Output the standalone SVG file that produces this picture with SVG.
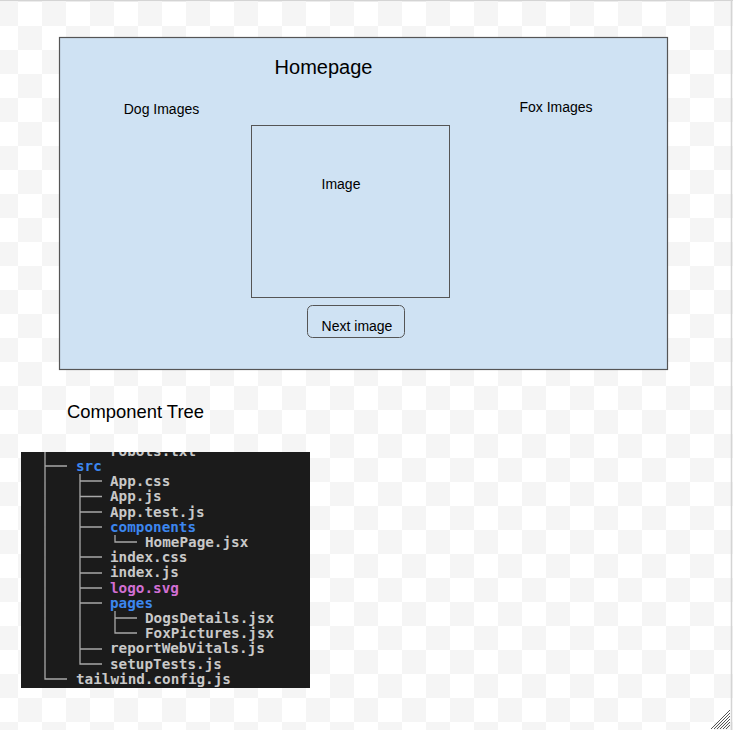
<svg xmlns="http://www.w3.org/2000/svg" width="733" height="730" viewBox="0 0 733 730">
  <defs>
    <pattern id="checker" patternUnits="userSpaceOnUse" x="-6" y="2" width="48" height="48">
      <rect x="0" y="0" width="48" height="48" fill="#ffffff"/>
      <rect x="0" y="0" width="24" height="24" fill="#f5f5f5"/>
      <rect x="24" y="24" width="24" height="24" fill="#f5f5f5"/>
    </pattern>
    <clipPath id="treeClip">
      <rect x="21" y="452" width="289" height="236"/>
    </clipPath>
    <style>
      .sans { font-family: "Liberation Sans", Arial, sans-serif; fill: #000000; }
      .box { fill: #cfe2f3; stroke: #555555; stroke-width: 1; }
      .mono { font-family: "DejaVu Sans Mono", "Liberation Mono", monospace; font-size: 14.3px; font-weight: bold; fill: #c8c8c8; }
      .dir { fill: #3c86ef; }
      .svg { fill: #d16fd3; }
      .tree { stroke: #a8a8a8; stroke-width: 1.3; fill: none; }
    </style>
  </defs>

  <rect x="0" y="0" width="733" height="730" fill="url(#checker)"/>
  <line x1="0" y1="0.5" x2="733" y2="0.5" stroke="#d4d4d4" stroke-width="1.5"/>
  <line x1="731.5" y1="0" x2="731.5" y2="730" stroke="#d4d4d4" stroke-width="1.5"/>

  <g id="homepage">
    <rect class="box" x="59.5" y="37.5" width="608" height="332" style="stroke-width:1.2"/>
    <text class="sans" x="323.5" y="74" font-size="20" text-anchor="middle">Homepage</text>
  </g>

  <g id="dog-images">
    <text class="sans" x="161.5" y="114" font-size="14" text-anchor="middle">Dog Images</text>
  </g>

  <g id="fox-images">
    <text class="sans" x="556" y="112" font-size="14" text-anchor="middle">Fox Images</text>
  </g>

  <g id="image">
    <rect class="box" x="251.5" y="125.5" width="198" height="172"/>
    <text class="sans" x="341" y="189" font-size="14" text-anchor="middle">Image</text>
  </g>

  <g id="next-image">
    <rect class="box" x="307.5" y="305.5" width="97" height="32" rx="5" ry="5"/>
    <text class="sans" x="357" y="331" font-size="14" text-anchor="middle">Next image</text>
  </g>

  <g id="component-tree-title">
    <text class="sans" x="67" y="418" font-size="18.4">Component Tree</text>
  </g>

  <g id="component-tree">
    <rect x="21" y="452" width="289" height="236" fill="#1b1b1b"/>
    <g clip-path="url(#treeClip)">
      <text class="mono" x="110" y="456">robots.txt</text>
      <text class="mono dir" x="76" y="471">src</text>
      <text class="mono" x="110" y="486.2">App.css</text>
      <text class="mono" x="110" y="501.4">App.js</text>
      <text class="mono" x="110" y="516.6">App.test.js</text>
      <text class="mono dir" x="110" y="531.8">components</text>
      <text class="mono" x="145" y="547">HomePage.jsx</text>
      <text class="mono" x="110" y="562.2">index.css</text>
      <text class="mono" x="110" y="577.4">index.js</text>
      <text class="mono svg" x="110" y="592.6">logo.svg</text>
      <text class="mono dir" x="110" y="607.8">pages</text>
      <text class="mono" x="145" y="623">DogsDetails.jsx</text>
      <text class="mono" x="145" y="638.2">FoxPictures.jsx</text>
      <text class="mono" x="110" y="653.4">reportWebVitals.js</text>
      <text class="mono" x="110" y="668.6">setupTests.js</text>
      <text class="mono" x="76" y="683.8">tailwind.config.js</text>
      <path class="tree" d="M45,452 V679 H67 M45,466 H67 M80,474 V664 H102 M80,481 H102 M80,496.5 H102 M80,512 H102 M80,527 H102 M80,557 H102 M80,573 H102 M80,588 H102 M80,603 H102 M80,649 H102 M115,535 V542 H137 M115,611 V633 H137 M115,618 H137"/>
    </g>
  </g>

  <g id="resize-handle" stroke="#555555" stroke-width="1">
    <line x1="711" y1="729" x2="730" y2="710"/>
    <line x1="714" y1="729" x2="730" y2="713"/>
    <line x1="717" y1="729" x2="730" y2="716"/>
    <line x1="720" y1="729" x2="730" y2="719"/>
    <line x1="723" y1="729" x2="730" y2="722"/>
    <line x1="726" y1="729" x2="730" y2="725"/>
  </g>
</svg>
